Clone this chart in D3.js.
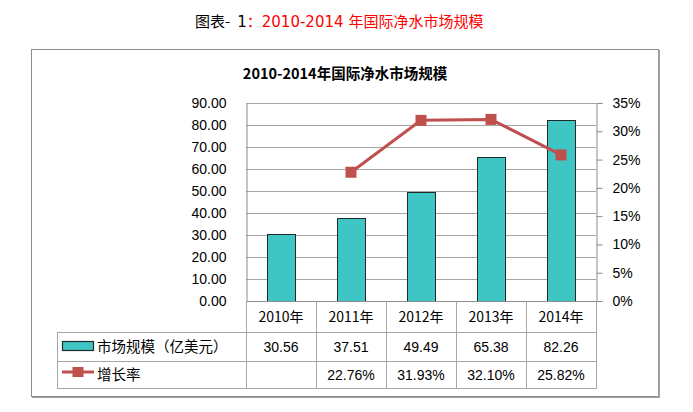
<!DOCTYPE html>
<html><head><meta charset="utf-8">
<script src="https://cdn.jsdelivr.net/npm/d3@7"></script>
<style>
body{margin:0;background:#fff;}
svg text{font-family:"Liberation Sans","Noto Sans CJK SC",sans-serif;}
</style></head>
<body><svg id="c" width="693" height="412"></svg>
<script>
const years = ["2010年","2011年","2012年","2013年","2014年"];
const marketSize = [30.56, 37.51, 49.49, 65.38, 82.26];
const growthRate = [null, 22.76, 31.93, 32.10, 25.82];
const leftTicks = [0,10,20,30,40,50,60,70,80,90];
const rightTicks = [0,5,10,15,20,25,30,35];
const seriesNames = ["市场规模（亿美元）","增长率"];
const chartTitle = "2010-2014年国际净水市场规模";

const svg = d3.select("#c");
const cjk = '"Noto Sans CJK SC","Liberation Sans",sans-serif';
const num = '"Liberation Sans","Noto Sans CJK SC",sans-serif';
const dv = '"DejaVu Sans","Noto Sans CJK SC",sans-serif';

// caption
const cap = svg.append("text").attr("x",195).attr("y",27).style("font-family",cjk).style("font-size","15px");
cap.append("tspan").attr("fill","#000").text("图表-");
cap.append("tspan").attr("fill","#000").attr("dx",7).style("font-family",dv).text("1");
cap.append("tspan").attr("fill","#ff0000").text("：");
cap.append("tspan").attr("fill","#ff0000").style("font-family",dv).text("2010-2014");
cap.append("tspan").attr("fill","#ff0000").attr("dx",5).text("年国际净水市场规模");

// chart border
svg.append("rect").attr("x",31.5).attr("y",49.5).attr("width",627).attr("height",347)
  .attr("fill","#fff").attr("stroke","#8c8c8c").attr("stroke-width",1);
svg.append("line").attr("x1",659).attr("x2",659).attr("y1",50).attr("y2",398).attr("stroke","#a0a0a0").attr("stroke-width",2);
svg.append("line").attr("x1",32).attr("x2",660).attr("y1",397.5).attr("y2",397.5).attr("stroke","#a0a0a0").attr("stroke-width",1);

// title
svg.append("text").attr("x",345).attr("y",79).attr("text-anchor","middle")
  .style("font-family",cjk).style("font-size","14.5px").style("font-weight","bold").attr("fill","#000").text(chartTitle);

const L=246, R=596, T=103, B=301;
const x = d3.scaleBand().domain(years).range([L,R]).paddingInner(0.6).paddingOuter(0.3);
const xb = d3.scaleBand().domain(years).range([L,R]);
const yL = d3.scaleLinear().domain([0,90]).range([B,T]);
const yR = d3.scaleLinear().domain([0,35]).range([B,T]);

// gridlines
svg.append("g").selectAll("line").data(leftTicks).join("line")
  .attr("x1",L).attr("x2",R).attr("y1",d=>Math.round(yL(d))+0.5).attr("y2",d=>Math.round(yL(d))+0.5)
  .attr("stroke","#a6a6a6").attr("stroke-width",1);

// left axis
const gl = svg.append("g").attr("transform",`translate(${L+0.5},0)`)
  .call(d3.axisLeft(yL).tickValues(leftTicks).tickFormat(d3.format(".2f")).tickSize(0).tickPadding(20));
gl.select(".domain").attr("stroke","#8c8c8c");
gl.selectAll("text").style("font-family",num).style("font-size","14px").attr("fill","#000");

// right axis
const gr = svg.append("g").attr("transform",`translate(${R+0.5},0)`)
  .call(d3.axisRight(yR).tickValues(rightTicks).tickFormat(d=>d+"%").tickSize(6).tickPadding(10));
gr.select(".domain").attr("stroke","#8c8c8c");
gr.selectAll(".tick line").attr("stroke","#8c8c8c");
gr.selectAll("text").style("font-family",num).style("font-size","14px").attr("fill","#000");

// bars
svg.append("g").selectAll("rect").data(marketSize).join("rect")
  .attr("x",(d,i)=>Math.round(x(years[i]))+0.5).attr("y",d=>Math.round(yL(d))+0.5)
  .attr("width",x.bandwidth()).attr("height",d=>B-Math.round(yL(d)))
  .attr("fill","#3ec5c4").attr("stroke","#1f2a2a").attr("stroke-width",1);

// baseline
svg.append("line").attr("x1",L).attr("x2",R+6).attr("y1",B+0.5).attr("y2",B+0.5).attr("stroke","#8c8c8c");

// line
const pts = growthRate.map((v,i)=>({v,c:years[i]})).filter(d=>d.v!=null);
svg.append("path").datum(pts)
  .attr("d",d3.line().x(d=>xb(d.c)+xb.bandwidth()/2).y(d=>yR(d.v)))
  .attr("fill","none").attr("stroke","#c0504d").attr("stroke-width",3);
svg.append("g").selectAll("rect").data(pts).join("rect")
  .attr("x",d=>xb(d.c)+xb.bandwidth()/2-5.5).attr("y",d=>yR(d.v)-5.5)
  .attr("width",11).attr("height",11).attr("fill","#c0504d");

// data table
const tb = svg.append("g").attr("stroke","#a6a6a6").attr("stroke-width",1);
years.forEach((c,i)=>{
  tb.append("line").attr("x1",Math.round(xb(c))+0.5).attr("x2",Math.round(xb(c))+0.5).attr("y1",B).attr("y2",388);
});
tb.append("line").attr("x1",R+0.5).attr("x2",R+0.5).attr("y1",B).attr("y2",388);
tb.append("line").attr("x1",57.5).attr("x2",57.5).attr("y1",332).attr("y2",388);
[332,361,388].forEach(y=>tb.append("line").attr("x1",57).attr("x2",R+1).attr("y1",y+0.5).attr("y2",y+0.5));

const cx = c=>xb(c)+xb.bandwidth()/2;
svg.append("g").selectAll("text").data(years).join("text")
  .attr("x",cx).attr("y",322).attr("text-anchor","middle")
  .style("font-family",cjk).style("font-size","14px").attr("fill","#000").text(d=>d);
svg.append("g").selectAll("text").data(marketSize).join("text")
  .attr("x",(d,i)=>cx(years[i])).attr("y",352).attr("text-anchor","middle")
  .style("font-family",num).style("font-size","14px").attr("fill","#000").text(d=>d.toFixed(2));
svg.append("g").selectAll("text").data(growthRate).join("text")
  .attr("x",(d,i)=>cx(years[i])).attr("y",380).attr("text-anchor","middle")
  .style("font-family",num).style("font-size","14px").attr("fill","#000").text(d=>d==null?"":d.toFixed(2)+"%");

// legend cells
svg.append("rect").attr("x",62.5).attr("y",341.5).attr("width",31).attr("height",9)
  .attr("fill","#3ec5c4").attr("stroke","#1f2a2a").attr("stroke-width",1.2);
svg.append("text").attr("x",97).attr("y",352).style("font-family",cjk).style("font-size","14.5px").attr("fill","#000").text(seriesNames[0]);
svg.append("line").attr("x1",62).attr("x2",94).attr("y1",372).attr("y2",372).attr("stroke","#c0504d").attr("stroke-width",3);
svg.append("rect").attr("x",72.5).attr("y",367).attr("width",11).attr("height",10).attr("fill","#c0504d");
svg.append("text").attr("x",97).attr("y",380).style("font-family",cjk).style("font-size","14.5px").attr("fill","#000").text(seriesNames[1]);
</script></body></html>
